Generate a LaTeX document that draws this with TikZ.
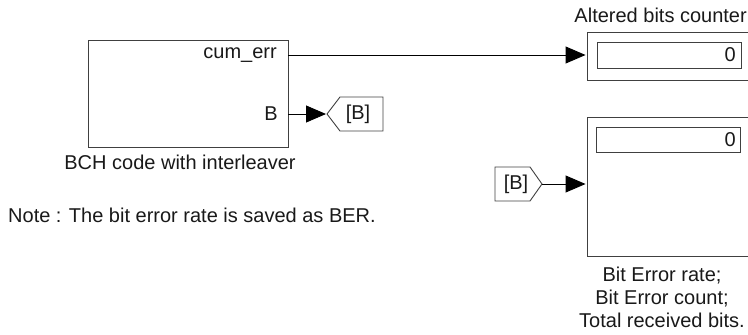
\documentclass[tikz,border=0pt]{standalone}
\usepackage{fontspec}
\setmainfont{Liberation Sans}
\usetikzlibrary{arrows.meta}
\begin{document}
\begin{tikzpicture}[x=1pt,y=-1pt,
  every node/.style={font=\fontsize{20}{23}\selectfont, text=black!90, inner sep=0pt},
  blk/.style={draw=black!75, line width=0.9pt},
  wire/.style={draw=black, line width=0.9pt, -{Triangle[length=20pt,width=17pt]}, shorten >=1pt}]
\useasboundingbox (0,0) rectangle (748,335);

% BCH subsystem block and its ports
\node[blk, minimum width=200pt, minimum height=107pt] (bch) at (188,93.5) {};
\node[anchor=east] (cum) at (277,55) {cum\_err};
\node[anchor=east] (bport) at (278,114) {B};
\coordinate (cumout) at (bch.east |- cum);
\coordinate (bout) at (bch.east |- bport);
\node (bchlabel) at (180,162) {BCH code with interleaver};
\node[anchor=west] (note) at (8,215) {Note : The bit error rate is saved as BER.};

% Goto tag [B]
\draw[blk] (327,114) -- (340,97) -- (383,97) -- (383,131) -- (340,131) -- cycle;
\coordinate (gotoin) at (327,114);
\node (gototext) at (358,114) {[B]};

% Display: altered bits counter
\node[blk, minimum width=164pt, minimum height=48pt] (disp1) at (669,56) {};
\node[blk, minimum width=144pt, minimum height=26pt] (disp1in) at (669,55) {};
\node[anchor=east] (disp1val) at (736,55) {0};
\node[anchor=east] (disp1label) at (747,15) {Altered bits counter};

% From tag [B]
\draw[blk] (495,167) -- (530,167) -- (542,184) -- (530,201) -- (495,201) -- cycle;
\coordinate (fromout) at (542,184);
\node (fromtext) at (516,184) {[B]};

% Display: error rate statistics
\node[blk, minimum width=164pt, minimum height=139pt] (disp2) at (669,186.5) {};
\node[blk, minimum width=144pt, minimum height=25pt] (disp2in) at (668.5,139.5) {};
\node[anchor=east] (disp2val) at (736,139.5) {0};
\node[align=center] (disp2label) at (662,297.5) {Bit Error rate;\\Bit Error count;\\Total received bits.};

% Signal lines
\draw[wire] (cumout) -- (cumout -| disp1.west);
\draw[wire] (bout) -- (gotoin);
\draw[wire] (fromout) -- (fromout -| disp2.west);
\end{tikzpicture}
\end{document}
